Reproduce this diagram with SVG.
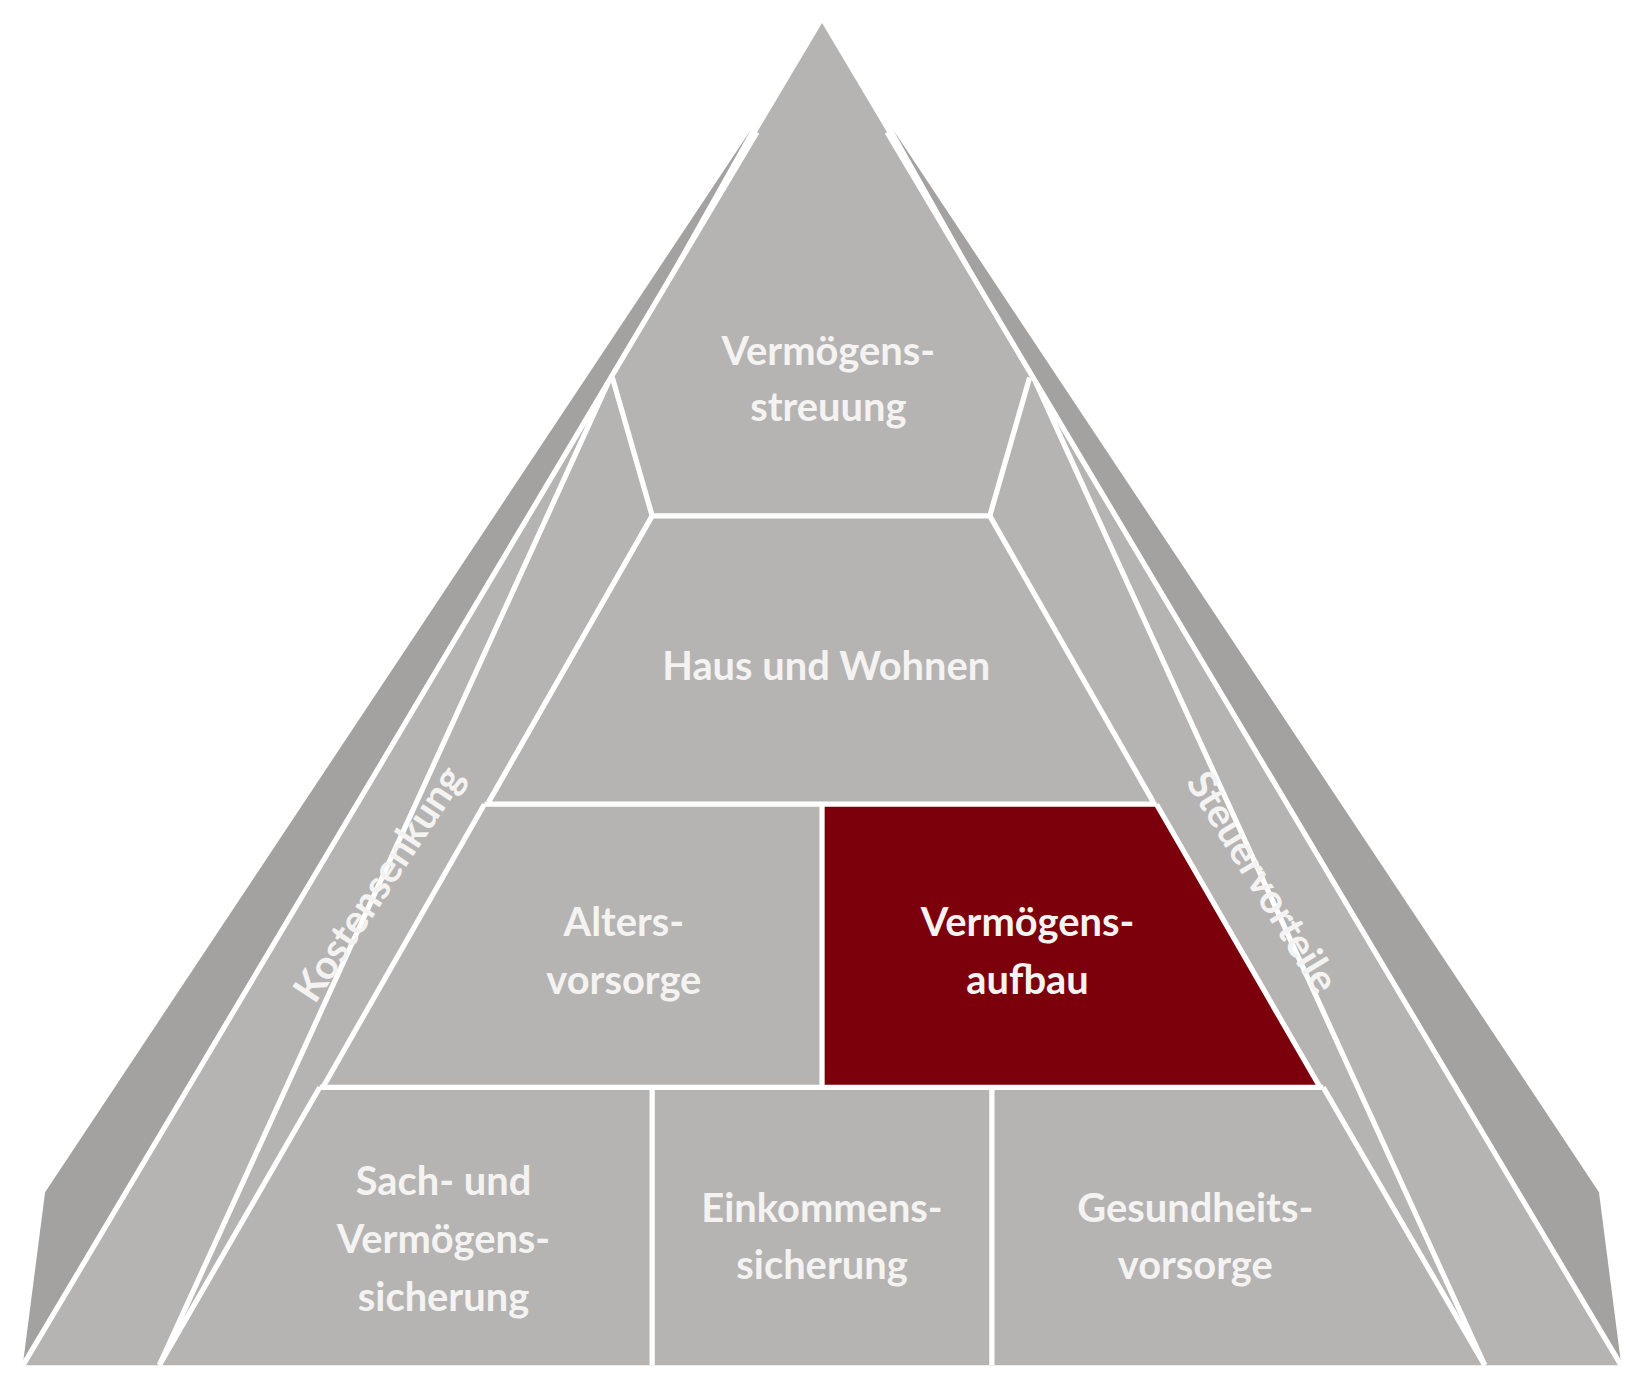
<svg xmlns="http://www.w3.org/2000/svg" width="1643" height="1386" viewBox="0 0 1643 1386">
<style>
.t{font-family:Lato,"Open Sans","Liberation Sans",sans-serif;font-weight:bold;font-size:38px;fill:#f4f3f2;text-anchor:middle}
.w{stroke:#fff;stroke-width:5;fill:none}
</style>
<rect width="1643" height="1386" fill="#fff"/>
<g transform="scale(1.0485)">
<g id="shadow">
<polygon points="716,124 43,1137 22,1300 600,330" fill="#a3a2a0"/>
<polygon points="852,124 1525,1137 1546,1300 968,330" fill="#a3a2a0"/>
</g>
<g id="pyramid">
<polygon points="784,22 22,1302 1546,1302" fill="#b5b4b2"/>
</g>
<g id="vaufbau"><polygon points="784,767 1103,767 1259,1037 784,1037" fill="#7b000b"/></g>
<g id="connectors">
<path class="w" d="M722,126 L22,1302 M846,126 L1546,1302"/>
<path class="w" d="M580,365 L152,1302 M988,365 L1416,1302"/>
<path class="w" d="M584,360 L622,492 L944,492 L982,360"/>
<path class="w" d="M622,492 L466,765 M944,492 L1100,765"/>
<path class="w" d="M462,767 L1103,767 M462,767 L308,1037 M1103,767 L1259,1037 M784,767 L784,1037"/>
<path class="w" d="M305,1037 L1262,1037 M305,1037 L152,1302 M1262,1037 L1416,1302 M622,1037 L622,1302 M946,1037 L946,1302"/>
</g>
<g id="n-streuung"><text class="t" x="790" y="348">Vermögens-</text><text class="t" x="790" y="402">streuung</text></g>
<g id="n-haus"><text class="t" x="788" y="649">Haus und Wohnen</text></g>
<g id="n-alters"><text class="t" x="595" y="893">Alters-</text><text class="t" x="595" y="948">vorsorge</text></g>
<g id="n-aufbau"><text class="t" x="980" y="893">Vermögens-</text><text class="t" x="980" y="948">aufbau</text></g>
<g id="n-sach"><text class="t" x="423" y="1140">Sach- und</text><text class="t" x="423" y="1195">Vermögens-</text><text class="t" x="423" y="1250">sicherung</text></g>
<g id="n-eink"><text class="t" x="784" y="1165">Einkommens-</text><text class="t" x="784" y="1220">sicherung</text></g>
<g id="n-ges"><text class="t" x="1140" y="1165">Gesundheits-</text><text class="t" x="1140" y="1220">vorsorge</text></g>
<g id="n-kosten"><text class="t" transform="translate(372,850) rotate(-56.5)">Kostensenkung</text></g>
<g id="n-steuer"><text class="t" transform="translate(1193,848) rotate(58.5)">Steuervorteile</text></g>
</g>
</svg>
